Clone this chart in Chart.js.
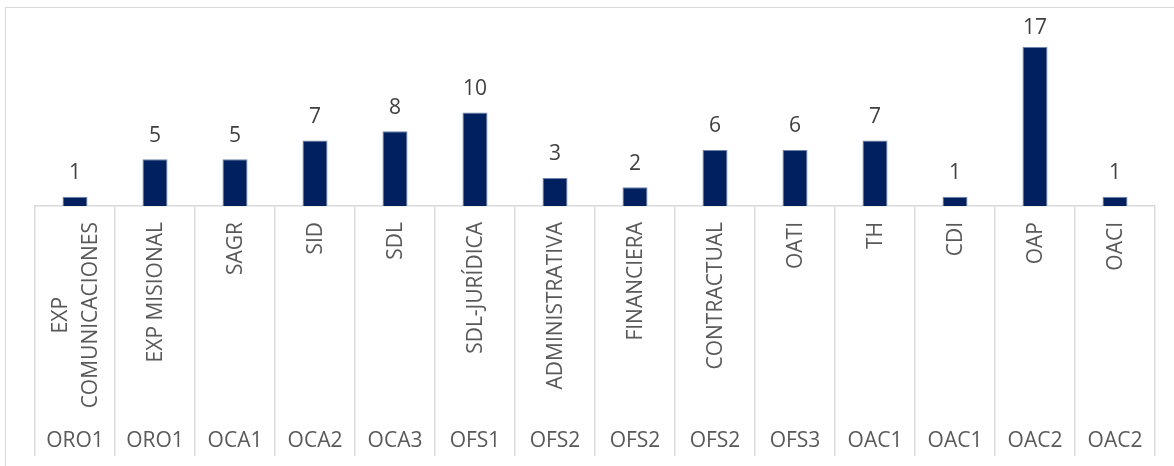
<!DOCTYPE html>
<html>
<head>
<meta charset="utf-8">
<script src="https://cdn.jsdelivr.net/npm/chart.js@4"></script>
<style>
  html, body { margin: 0; padding: 0; background: #fff; overflow: hidden; }
  #wrap { position: relative; width: 1174px; height: 466px; }
  #frame { position: absolute; left: 5px; top: 7px; width: 1200px; height: 500px; border: 1px solid #d9d9d9; }
  canvas { position: absolute; left: 0; top: 0; }
</style>
</head>
<body>
<div id="wrap">
  <div id="frame"></div>
  <canvas id="chart" width="1174" height="466"></canvas>
</div>
<script>
// categories (inner level, possibly wrapped) and outer group level
const CATEGORIES = [
  ['EXP', 'COMUNICACIONES'], ['EXP MISIONAL'], ['SAGR'], ['SID'], ['SDL'], ['SDL-JURÍDICA'],
  ['ADMINISTRATIVA'], ['FINANCIERA'], ['CONTRACTUAL'], ['OATI'], ['TH'], ['CDI'], ['OAP'], ['OACI'],
];
const GROUPS = ['ORO1', 'ORO1', 'OCA1', 'OCA2', 'OCA3', 'OFS1', 'OFS2', 'OFS2', 'OFS2', 'OFS3', 'OAC1', 'OAC1', 'OAC2', 'OAC2'];
const VALUES = [1, 5, 5, 7, 8, 10, 3, 2, 6, 6, 7, 1, 17, 1];

const FONT = '"Open Sans", sans-serif';
const LINE = '#d9d9d9';

// value labels above bars, kept inside the plot area like Excel does
const valueLabels = {
  id: 'valueLabels',
  afterDatasetsDraw(chart) {
    const { ctx, chartArea } = chart;
    const bars = chart.getDatasetMeta(0).data;
    ctx.save();
    ctx.font = '21px ' + FONT;
    ctx.fillStyle = '#404040';
    ctx.textAlign = 'center';
    ctx.textBaseline = 'alphabetic';
    bars.forEach((bar, i) => {
      const y = Math.max(bar.y - 17.5, chartArea.top + 15);
      ctx.fillText(String(VALUES[i]), bar.x, y);
    });
    ctx.restore();
  },
};

// two-level category labels drawn at the x scale's tick positions
const multiLevel = {
  id: 'multiLevel',
  afterDraw(chart) {
    const { ctx } = chart;
    const x = chart.scales.x;
    const top = x.top;
    ctx.save();
    ctx.font = '21px ' + FONT;
    ctx.fillStyle = '#595959';
    CATEGORIES.forEach((lines, i) => {
      const cx = x.getPixelForTick(i) + 1;
      const w = Math.max(...lines.map(s => ctx.measureText(s).width));
      ctx.save();
      ctx.translate(cx, top + 16);
      ctx.rotate(-Math.PI / 2);
      ctx.textAlign = 'center';
      ctx.textBaseline = 'middle';
      lines.forEach((s, j) => {
        ctx.fillText(s, -w / 2, (j - (lines.length - 1) / 2) * 30);
      });
      ctx.restore();
    });
    ctx.textAlign = 'center';
    ctx.textBaseline = 'middle';
    GROUPS.forEach((g, i) => {
      ctx.fillText(g, x.getPixelForTick(i), top + 235);
    });
    ctx.restore();
  },
};

new Chart(document.getElementById('chart'), {
  type: 'bar',
  data: {
    labels: CATEGORIES.map(l => l.join(' ')),
    datasets: [{
      data: VALUES,
      backgroundColor: '#002060',
      borderColor: '#6f84a8',
      borderWidth: 1,
      categoryPercentage: 1,
      barPercentage: 0.3125,
    }],
  },
  options: {
    responsive: false,
    animation: false,
    layout: { padding: { left: 35, right: 19, top: 19, bottom: 10 } },
    plugins: { legend: { display: false }, tooltip: { enabled: false } },
    scales: {
      x: {
        offset: true,
        grid: { offset: true, drawOnChartArea: false, drawTicks: true, tickLength: 250, color: LINE, lineWidth: 1.5 },
        border: { display: true, color: LINE, width: 1.5 },
        ticks: { display: false },
        afterFit(scale) { scale.height = 250; },
      },
      y: {
        display: false,
        min: 0,
        max: 20,
      },
    },
  },
  plugins: [valueLabels, multiLevel],
});
</script>
</body>
</html>
